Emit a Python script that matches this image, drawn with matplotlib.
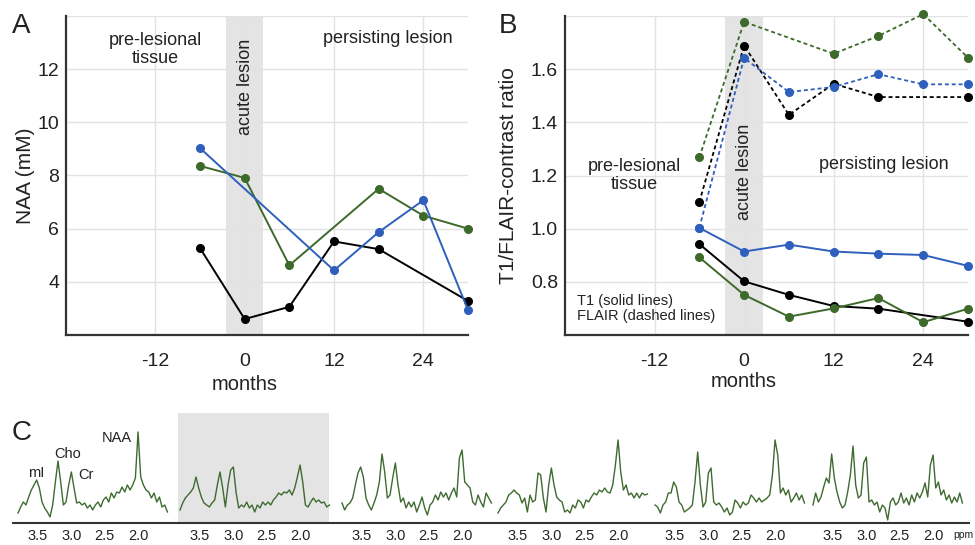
import matplotlib
matplotlib.use('Agg')
import matplotlib.pyplot as plt
from matplotlib.lines import Line2D

plt.rcParams['font.family'] = ['Liberation Sans', 'DejaVu Sans']

# ---------------- data ----------------
# Panel A: NAA (mM) vs months
naa_blue_m = [-6, 12, 18, 24, 30]
naa_blue = [9.03, 4.43, 5.87, 7.07, 2.94]
naa_green_m = [-6, 0, 6, 18, 24, 30]
naa_green = [8.36, 7.91, 4.62, 7.50, 6.49, 6.00]
naa_black_m = [-6, 0, 6, 12, 18, 30]
naa_black = [5.27, 2.60, 3.06, 5.52, 5.23, 3.28]

# Panel B: T1 (solid) and FLAIR (dashed) contrast ratio
t1_blue_m = [-6, 0, 6, 12, 18, 24, 30]
t1_blue = [1.003, 0.914, 0.940, 0.914, 0.906, 0.901, 0.860]
t1_black_m = [-6, 0, 6, 12, 18, 30]
t1_black = [0.942, 0.802, 0.751, 0.709, 0.699, 0.650]
t1_green_m = [-6, 0, 6, 12, 18, 24, 30]
t1_green = [0.892, 0.751, 0.669, 0.700, 0.739, 0.648, 0.699]
fl_green_m = [-6, 0, 12, 18, 24, 30]
fl_green = [1.268, 1.778, 1.658, 1.725, 1.807, 1.643]
fl_black_m = [-6, 0, 6, 12, 18, 30]
fl_black = [1.100, 1.689, 1.428, 1.545, 1.495, 1.495]
fl_blue_m = [-6, 0, 6, 12, 18, 24, 30]
fl_blue = [1.003, 1.642, 1.514, 1.533, 1.581, 1.543, 1.543]

month_ticks = [-12, 0, 12, 24]

# Panel C: spectra (intensity, arbitrary units) on a ppm grid
ppm = [3.80, 3.76, 3.72, 3.68, 3.64, 3.60, 3.56, 3.52, 3.48, 3.44, 3.40, 3.36,
       3.32, 3.28, 3.24, 3.20, 3.16, 3.12, 3.08, 3.04, 3.00, 2.96, 2.92, 2.88,
       2.84, 2.80, 2.76, 2.72, 2.68, 2.64, 2.60, 2.56, 2.52, 2.48, 2.44, 2.40,
       2.36, 2.32, 2.28, 2.24, 2.20, 2.16, 2.12, 2.08, 2.04, 2.00, 1.96, 1.92,
       1.88, 1.84, 1.80, 1.76, 1.72, 1.68, 1.64, 1.60, 1.56]
spec1 = [10, 16, 21, 18, 26, 33, 38, 43, 35, 21, 15, 11, 6, 18, 41, 62, 41, 18, 21, 38,
         51, 35, 20, 21, 18, 20, 15, 18, 13, 18, 21, 16, 23, 26, 21, 30, 25, 31, 30, 36,
         31, 38, 33, 38, 45, 91, 46, 38, 33, 31, 25, 30, 21, 26, 16, 18, 11]
spec2 = [13, 20, 25, 28, 31, 35, 46, 35, 26, 20, 18, 16, 20, 23, 38, 51, 35, 16, 38, 53,
         56, 31, 15, 18, 16, 21, 15, 18, 11, 18, 15, 21, 18, 21, 18, 23, 26, 30, 28, 31,
         30, 33, 28, 35, 46, 58, 41, 18, 16, 21, 25, 21, 23, 20, 21, 16, 18]
spec3 = [20, 13, 18, 20, 25, 38, 50, 56, 46, 25, 18, 13, 20, 28, 41, 69, 51, 25, 28, 45,
         60, 38, 21, 25, 15, 21, 16, 21, 11, 18, 26, 15, 8, 18, 21, 28, 23, 31, 26, 30,
         23, 30, 35, 26, 65, 73, 41, 38, 35, 21, 18, 28, 21, 16, 30, 25, 20]
spec4 = [10, 15, 18, 21, 28, 30, 33, 30, 28, 20, 25, 11, 28, 21, 23, 50, 48, 25, 11, 38,
         55, 38, 26, 23, 21, 11, 13, 10, 18, 15, 23, 21, 15, 23, 21, 26, 30, 28, 33, 31,
         35, 31, 30, 38, 58, 83, 51, 33, 38, 28, 30, 25, 30, 25, 30, 28, 29]
spec5 = [18, 16, 10, 18, 21, 30, 30, 41, 36, 21, 18, 11, 13, 15, 18, 41, 71, 38, 16, 21,
         50, 55, 21, 18, 20, 16, 11, 15, 8, 11, 23, 20, 15, 21, 18, 20, 28, 25, 21, 25,
         21, 23, 25, 28, 48, 83, 68, 30, 35, 28, 33, 21, 25, 30, 23, 28, 20]
spec6 = [18, 30, 21, 26, 36, 45, 40, 69, 45, 31, 21, 15, 18, 31, 48, 77, 38, 25, 28, 60,
         66, 21, 23, 18, 21, 11, 18, 15, 3, 21, 25, 18, 21, 30, 20, 25, 18, 28, 21, 30,
         25, 31, 40, 26, 58, 68, 35, 41, 28, 33, 23, 28, 20, 26, 21, 30, 20]
spectra = [spec1, spec2, spec3, spec4, spec5, spec6]
ppm_ticks = [3.5, 3.0, 2.5, 2.0]

# ---------------- styling ----------------
W, H = 975, 545
fig = plt.figure(figsize=(W / 100, H / 100), dpi=100)

BLUE = '#2f5fbd'
GREEN = '#3d6a2a'
BLACK = '#000000'
GRID = '#e2e2e2'
BAND = '#e4e4e4'
TXT = '#222222'
SPINE = '#333333'


def px_axes(x0, y0, x1, y1):
    return fig.add_axes([x0 / W, 1 - y1 / H, (x1 - x0) / W, (y1 - y0) / H])


def style_panel(ax, ylim, yticks, ylabels):
    ax.set_xlim(-24, 30)
    ax.set_ylim(*ylim)
    ax.set_xticks(month_ticks)
    ax.set_xticklabels([str(t) for t in month_ticks])
    ax.set_yticks(yticks)
    ax.set_yticklabels(ylabels)
    ax.grid(True, color=GRID, lw=1.0, zorder=0)
    ax.set_axisbelow(True)
    for s in ['top', 'right']:
        ax.spines[s].set_visible(False)
    for s in ['left', 'bottom']:
        ax.spines[s].set_color(SPINE)
        ax.spines[s].set_linewidth(1.6)
    ax.tick_params(axis='both', length=0, labelsize=14, colors=TXT)
    ax.tick_params(axis='x', pad=13)
    ax.tick_params(axis='y', pad=5)
    ax.axvspan(-2.5, 2.5, color=BAND, lw=0, zorder=0.5)


def plot_series(ax, x, y, color, ls='-'):
    if ls == '-':
        ax.plot(x, y, color=color, lw=1.4, marker='o', ms=5.5, zorder=3, clip_on=False)
    else:
        ax.plot(x, y, color=color, lw=1.3, ls=(0, (2.2, 1.6)), marker='o', ms=5.5,
                zorder=3, clip_on=False)


# ---------------- Panel A ----------------
axA = px_axes(66, 16, 468, 335)
style_panel(axA, (2, 14), [2, 4, 6, 8, 10, 12, 14],
            ['', '4', '6', '8', '10', '12', ''])
plot_series(axA, naa_black_m, naa_black, BLACK)
plot_series(axA, naa_green_m, naa_green, GREEN)
plot_series(axA, naa_blue_m, naa_blue, BLUE)
axA.set_ylabel('NAA (mM)', fontsize=15, color=TXT)
axA.yaxis.set_label_coords(-0.076, 0.5)
axA.set_xlabel('months', fontsize=14.5, color=TXT)
axA.xaxis.set_label_coords(0.444, -0.125)
axA.text(-12, 12.75, 'pre-lesional\ntissue', ha='center', va='center',
         fontsize=13, color=TXT, linespacing=1.05)
axA.text(19.2, 13.15, 'persisting lesion', ha='center', va='center',
         fontsize=13, color=TXT)
axA.text(0.1, 13.15, 'acute lesion', rotation=90, ha='center', va='top',
         fontsize=13, color=TXT)

# ---------------- Panel B ----------------
axB = px_axes(565, 16, 968, 335)
style_panel(axB, (0.6, 1.8), [0.6, 0.8, 1.0, 1.2, 1.4, 1.6, 1.8],
            ['', '0.8', '1.0', '1.2', '1.4', '1.6', ''])
plot_series(axB, fl_black_m, fl_black, BLACK, '--')
plot_series(axB, fl_green_m, fl_green, GREEN, '--')
plot_series(axB, fl_blue_m, fl_blue, BLUE, '--')
plot_series(axB, t1_black_m, t1_black, BLACK)
plot_series(axB, t1_green_m, t1_green, GREEN)
plot_series(axB, t1_blue_m, t1_blue, BLUE)
axB.set_ylabel('T1/FLAIR-contrast ratio', fontsize=15, color=TXT)
axB.yaxis.set_label_coords(-0.117, 0.5)
axB.set_xlabel('months', fontsize=14.5, color=TXT)
axB.xaxis.set_label_coords(0.444, -0.115)
axB.text(-14.7, 1.2, 'pre-lesional\ntissue', ha='center', va='center',
         fontsize=13, color=TXT, linespacing=1.05)
axB.text(18.7, 1.24, 'persisting lesion', ha='center', va='center',
         fontsize=13, color=TXT)
axB.text(0.1, 1.395, 'acute lesion', rotation=90, ha='center', va='top',
         fontsize=13, color=TXT)
axB.text(-22.4, 0.70, 'T1 (solid lines)\nFLAIR (dashed lines)', ha='left',
         va='center', fontsize=10.5, color=TXT, linespacing=1.15)

# ---------------- Panel C ----------------
spec_left = [18, 180, 342, 498, 655, 813]
PX_PER_PPM = 66.7
for i, (left, spec) in enumerate(zip(spec_left, spectra)):
    ax = px_axes(left - 2, 413, left + 149, 523)
    ax.set_xlim(3.80 + 2 / PX_PER_PPM, 3.80 - 149 / PX_PER_PPM)
    ax.set_ylim(0, 110)
    ax.plot(ppm, spec, color='#3f6a30', lw=1.0, clip_on=False)
    ax.set_facecolor(BAND if i == 1 else 'none')
    for s in ax.spines.values():
        s.set_visible(False)
    ax.set_yticks([])
    ax.set_xticks(ppm_ticks)
    ax.set_xticklabels(['%.1f' % t for t in ppm_ticks])
    ax.tick_params(axis='x', length=0, pad=4, labelsize=10.5, colors=TXT)
    if i == 0:
        ax.text(3.53, 50, 'mI', ha='center', va='center', fontsize=10.5, color=TXT)
        ax.text(3.06, 69, 'Cho', ha='center', va='center', fontsize=10.5, color=TXT)
        ax.text(2.78, 48, 'Cr', ha='center', va='center', fontsize=10.5, color=TXT)
        ax.text(2.32, 85, 'NAA', ha='center', va='center', fontsize=10.5, color=TXT)

fig.add_artist(Line2D([13 / W, 969 / W], [1 - 523 / H, 1 - 523 / H],
                      transform=fig.transFigure, color=SPINE, lw=1.5))
fig.text(973 / W, 1 - 535 / H, 'ppm', fontsize=7.5, color=TXT, ha='right', va='center')

# panel letters
fig.text(12 / W, 1 - 26 / H, 'A', fontsize=20, color=TXT, ha='left', va='center')
fig.text(499 / W, 1 - 26 / H, 'B', fontsize=20, color=TXT, ha='left', va='center')
fig.text(12 / W, 1 - 433 / H, 'C', fontsize=20, color=TXT, ha='left', va='center')

fig.savefig('out.png', dpi=100)
